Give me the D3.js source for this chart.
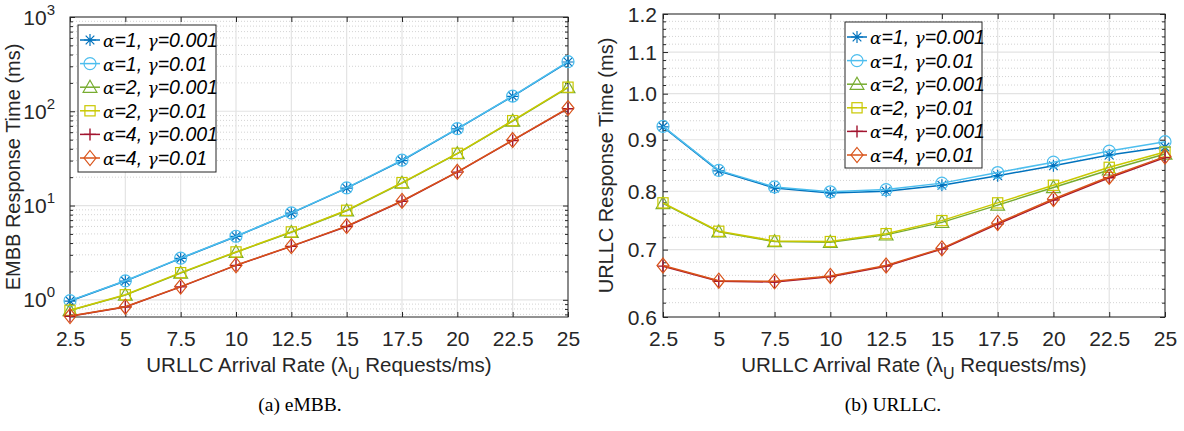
<!DOCTYPE html>
<html><head><meta charset="utf-8">
<script src="https://cdn.jsdelivr.net/npm/d3@7"></script>
<style>body{margin:0;background:#fff}svg{display:block}</style>
</head><body>
<svg id="c" width="1184" height="431"></svg>
<script>
const xValues = [2.5,5,7.5,10,12.5,15,17.5,20,22.5,25];
const xTickLabels = ["2.5","5","7.5","10","12.5","15","17.5","20","22.5","25"];
const seriesNames = ["α=1, γ=0.001","α=1, γ=0.01","α=2, γ=0.001","α=2, γ=0.01","α=4, γ=0.001","α=4, γ=0.01"];
const seriesAlpha = ["1","1","2","2","4","4"];
const seriesGamma = ["0.001","0.01","0.001","0.01","0.001","0.01"];
// (a) eMBB response time (ms)
const embbA1G001 = [0.97,1.58,2.75,4.7,8.3,15.3,30,65,144,333];
const embbA1G01  = [0.98,1.59,2.77,4.72,8.35,15.4,30.3,65.5,145,336];
const embbA2G001 = [0.77,1.12,1.92,3.2,5.2,8.8,17.3,35.5,78.7,178];
const embbA2G01  = [0.775,1.13,1.94,3.22,5.25,8.9,17.5,35.8,79.5,180];
const embbA4G001 = [0.67,0.84,1.37,2.32,3.69,6.0,11.1,22.6,49,106.5];
const embbA4G01  = [0.672,0.845,1.38,2.33,3.71,6.05,11.2,22.8,49.5,108];
// (b) URLLC response time (ms)
const urllcA1G001 = [0.927,0.838,0.806,0.797,0.800,0.811,0.829,0.848,0.869,0.885];
const urllcA1G01  = [0.928,0.839,0.808,0.799,0.803,0.815,0.835,0.855,0.877,0.896];
const urllcA2G001 = [0.778,0.729,0.713,0.712,0.724,0.745,0.775,0.807,0.840,0.871];
const urllcA2G01  = [0.779,0.730,0.714,0.713,0.726,0.748,0.779,0.811,0.845,0.875];
const urllcA4G001 = [0.674,0.651,0.650,0.658,0.674,0.701,0.742,0.784,0.825,0.864];
const urllcA4G01  = [0.675,0.652,0.651,0.659,0.675,0.702,0.744,0.786,0.827,0.866];
const leftYTicks = [1,10,100,1000];
const leftYTickExp = ["0","1","2","3"];
const rightYTicks = [0.6,0.7,0.8,0.9,1.0,1.1,1.2];
const rightYTickLabels = ["0.6","0.7","0.8","0.9","1.0","1.1","1.2"];

const colors = ["#0072BD","#4DBEEE","#77AC30","#C9C800","#A2142F","#D95319"];
const markers = ["star","circle","triangle","square","plus","diamond"];

const svg = d3.select("#c");
const FONT = "'Liberation Sans', Arial, Helvetica, sans-serif";
const AX = "#262626";
const TICKFS = 21;

function drawMarker(g, type, x, y, color){
  const s = 6;
  if(type==="star"){
    const p = d3.path();
    p.moveTo(x-s,y);p.lineTo(x+s,y);
    p.moveTo(x,y-s);p.lineTo(x,y+s);
    const d=s*0.72;
    p.moveTo(x-d,y-d);p.lineTo(x+d,y+d);
    p.moveTo(x-d,y+d);p.lineTo(x+d,y-d);
    g.append("path").attr("d",p.toString()).attr("stroke",color).attr("stroke-width",1.2).attr("fill","none");
  } else if(type==="circle"){
    g.append("circle").attr("cx",x).attr("cy",y).attr("r",s).attr("stroke",color).attr("stroke-width",1.2).attr("fill","none");
  } else if(type==="triangle"){
    g.append("path").attr("d",`M${x},${y-s*1.15}L${x+s*1.15},${y+s*0.85}L${x-s*1.15},${y+s*0.85}Z`).attr("stroke",color).attr("stroke-width",1.2).attr("fill","none");
  } else if(type==="square"){
    g.append("rect").attr("x",x-s*0.85).attr("y",y-s*0.85).attr("width",s*1.7).attr("height",s*1.7).attr("stroke",color).attr("stroke-width",1.2).attr("fill","none");
  } else if(type==="plus"){
    g.append("path").attr("d",`M${x-s},${y}L${x+s},${y}M${x},${y-s}L${x},${y+s}`).attr("stroke",color).attr("stroke-width",1.4).attr("fill","none");
  } else if(type==="diamond"){
    g.append("path").attr("d",`M${x},${y-s*1.25}L${x+s*1.0},${y}L${x},${y+s*1.25}L${x-s*1.0},${y}Z`).attr("stroke",color).attr("stroke-width",1.2).attr("fill","none");
  }
}

function panel(opt){
  const {L,R,T,B,yScaleDomain,data,majorY,minorY,yLabel,yTickFmt,legend,caption,capX} = opt;
  const x = d3.scaleLinear().domain([2.5,25]).range([L,R]);
  const y = d3.scaleLog().domain(yScaleDomain).range([B,T]);
  const g = svg.append("g");
  const grid = g.append("g");
  minorY.forEach(v=>{
    grid.append("line").attr("x1",L).attr("x2",R).attr("y1",y(v)).attr("y2",y(v))
      .attr("stroke","#c8c8c8").attr("stroke-width",0.8).attr("stroke-dasharray","1,2");
  });
  majorY.forEach(v=>{
    grid.append("line").attr("x1",L).attr("x2",R).attr("y1",y(v)).attr("y2",y(v))
      .attr("stroke","#e3e3e3").attr("stroke-width",1.2);
  });
  xValues.forEach(v=>{
    grid.append("line").attr("x1",x(v)).attr("x2",x(v)).attr("y1",T).attr("y2",B)
      .attr("stroke","#e3e3e3").attr("stroke-width",1.2);
  });
  const xAxis = d3.axisBottom(x).tickValues(xValues).tickFormat((d,i)=>xTickLabels[i]).tickSizeInner(-5).tickSizeOuter(0).tickPadding(14);
  const xa = g.append("g").attr("transform",`translate(0,${B})`).call(xAxis);
  const xTop = d3.axisTop(x).tickValues(xValues).tickFormat("").tickSizeInner(-5).tickSizeOuter(0);
  const xt = g.append("g").attr("transform",`translate(0,${T})`).call(xTop);
  const yAxis = d3.axisLeft(y).tickValues(majorY).tickFormat("").tickSizeInner(-5).tickSizeOuter(0);
  const ya = g.append("g").attr("transform",`translate(${L},0)`).call(yAxis);
  const yAxisR = d3.axisRight(y).tickValues(majorY).tickFormat("").tickSizeInner(-5).tickSizeOuter(0);
  const yr = g.append("g").attr("transform",`translate(${R},0)`).call(yAxisR);
  const yMin = d3.axisLeft(y).tickValues(minorY).tickFormat("").tickSizeInner(-3).tickSizeOuter(0);
  const ym = g.append("g").attr("transform",`translate(${L},0)`).call(yMin);
  const yMinR = d3.axisRight(y).tickValues(minorY).tickFormat("").tickSizeInner(-3).tickSizeOuter(0);
  const ymr = g.append("g").attr("transform",`translate(${R},0)`).call(yMinR);
  [xa,xt,ya,yr,ym,ymr].forEach(a=>{
    a.select(".domain").remove();
    a.selectAll("line").attr("stroke",AX).attr("stroke-width",1);
    a.selectAll("text").attr("fill",AX).attr("font-family",FONT).attr("font-size",TICKFS);
  });
  g.append("rect").attr("x",L).attr("y",T).attr("width",R-L).attr("height",B-T)
    .attr("fill","none").attr("stroke",AX).attr("stroke-width",1);
  majorY.forEach((v,i)=>{
    const t = g.append("text").attr("x",L-6).attr("y",y(v)+7.5).attr("text-anchor","end")
      .attr("font-family",FONT).attr("font-size",TICKFS).attr("fill",AX);
    yTickFmt(t,i);
  });
  g.append("text").attr("transform",`translate(${L-50},${(T+B)/2}) rotate(-90)`)
    .attr("text-anchor","middle").attr("font-family",FONT).attr("font-size",20).attr("fill",AX)
    .text(yLabel);
  const xl = g.append("text").attr("x",(L+R)/2).attr("y",B+55).attr("text-anchor","middle")
    .attr("font-family",FONT).attr("font-size",20.5).attr("fill",AX);
  xl.append("tspan").text("URLLC Arrival Rate (");
  xl.append("tspan").text("λ");
  xl.append("tspan").attr("font-size",16).attr("dy",7).text("U");
  xl.append("tspan").attr("dy",-7).text(" Requests/ms)");
  const sg = g.append("g");
  data.forEach((arr,i)=>{
    const line = d3.line().x((d,j)=>x(xValues[j])).y(d=>y(d));
    sg.append("path").attr("d",line(arr)).attr("fill","none").attr("stroke",colors[i]).attr("stroke-width",1.5);
    arr.forEach((d,j)=>drawMarker(sg,markers[i],x(xValues[j]),y(d),colors[i]));
  });
  const lg = g.append("g");
  lg.append("rect").attr("x",legend.x).attr("y",legend.y).attr("width",legend.w).attr("height",legend.h)
    .attr("fill","#fff").attr("stroke",AX).attr("stroke-width",1);
  seriesNames.forEach((n,i)=>{
    const cy = legend.y + 15 + i*23.6;
    const lx = legend.x + 2;
    lg.append("line").attr("x1",lx).attr("x2",lx+20).attr("y1",cy).attr("y2",cy).attr("stroke",colors[i]).attr("stroke-width",1.5);
    drawMarker(lg,markers[i],lx+10,cy,colors[i]);
    const t = lg.append("text").attr("x",lx+23).attr("y",cy+7).attr("font-family",FONT).attr("font-size",19.5)
      .attr("font-style","italic").attr("fill","#000");
    t.append("tspan").attr("font-family","'DejaVu Serif', serif").attr("font-size",17).text("α");
    t.append("tspan").text("="+seriesAlpha[i]+", ");
    t.append("tspan").attr("font-family","'DejaVu Serif', serif").attr("font-size",17).text("γ");
    t.append("tspan").text("="+seriesGamma[i]);
  });
  svg.append("text").attr("x",capX).attr("y",411).attr("text-anchor","middle")
    .attr("font-family","'Liberation Serif', 'Times New Roman', serif").attr("font-size",19.5).attr("fill","#000")
    .text(caption);
}

const leftMinor = [];
[0.1,1,10,100].forEach(dec=>{ for(let k=2;k<=9;k++){ const v=dec*k; if(v>0.66 && v<1000) leftMinor.push(v);} });
const rightMinor = [];
for(let k=0;k<=30;k++){ const v=+(0.6+0.02*k).toFixed(2); if(Math.abs(v*10-Math.round(v*10))>1e-6) rightMinor.push(v); }

panel({L:70,R:568,T:17,B:317,yScaleDomain:[0.657,1000],
  data:[embbA1G001,embbA1G01,embbA2G001,embbA2G01,embbA4G001,embbA4G01],
  majorY:leftYTicks,minorY:leftMinor,yLabel:"EMBB Response Time (ms)",
  yTickFmt:(t,i)=>{ t.attr("x",55).append("tspan").text("10"); t.append("tspan").attr("font-size",15).attr("dy",-10).text(leftYTickExp[i]); },
  legend:{x:78,y:25,w:138,h:147},caption:"(a) eMBB.",capX:300});

panel({L:663,R:1165,T:14,B:317,yScaleDomain:[0.6,1.2],
  data:[urllcA1G001,urllcA1G01,urllcA2G001,urllcA2G01,urllcA4G001,urllcA4G01],
  majorY:rightYTicks,minorY:rightMinor,yLabel:"URLLC Response Time (ms)",
  yTickFmt:(t,i)=>{ t.text(rightYTickLabels[i]); },
  legend:{x:845,y:22,w:137,h:146},caption:"(b) URLLC.",capX:893});
</script>
</body></html>
